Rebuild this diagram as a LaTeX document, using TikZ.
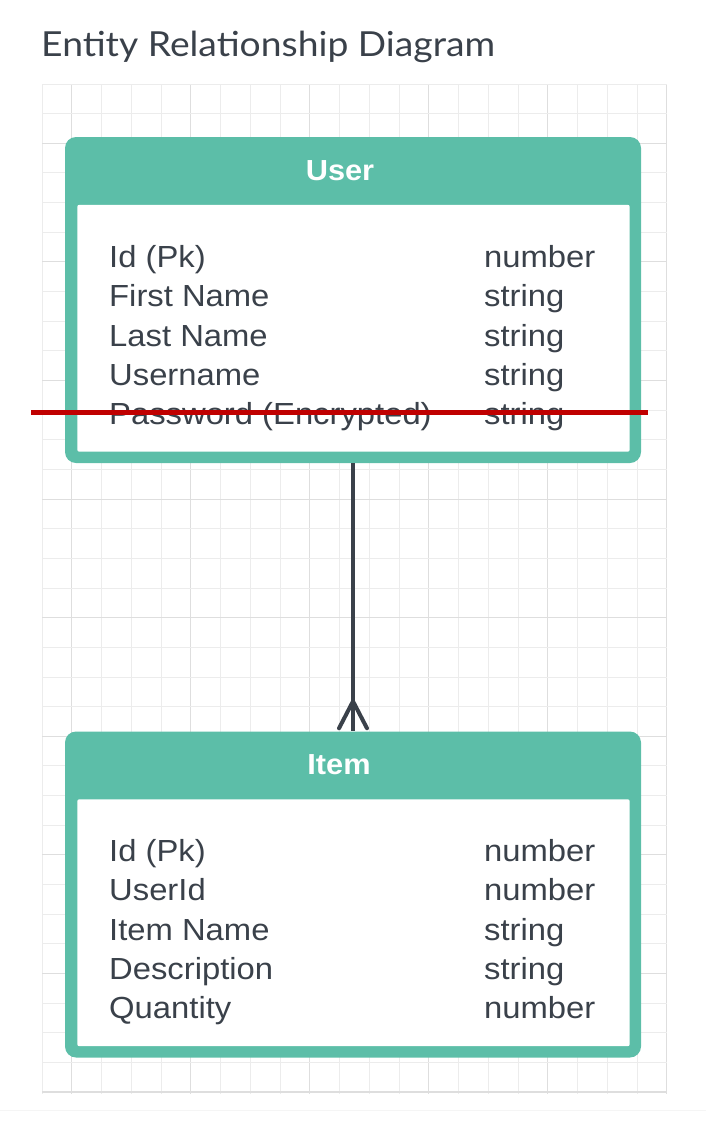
\documentclass[tikz,border=0pt]{standalone}
\usepackage{fontspec}
\setmainfont{Liberation Sans}
\newfontfamily\titlefont{Lato}
\usetikzlibrary{calc}
\definecolor{teal1}{HTML}{5CBEA8}
\definecolor{ink}{HTML}{3A414A}
\definecolor{gridminor}{HTML}{ECECEC}
\definecolor{gridmajor}{HTML}{DEDEDE}
\definecolor{redline}{HTML}{C00000}
\newcommand{\rowtxt}[1]{\scalebox{1.075}[1]{\fontsize{30.5}{31}\selectfont #1}}
\newcommand{\headtxt}[1]{\scalebox{1.06}[1]{\fontsize{29}{30}\selectfont\bfseries #1}}
\tikzset{
  entitybox/.style={fill=teal1, rounded corners=11pt, minimum width=576pt, minimum height=326pt, inner sep=0pt},
  bodyfill/.style={fill=white, rounded corners=2pt},
  field/.style={anchor=base west, inner sep=0pt, text=ink},
  header/.style={anchor=base, inner sep=0pt, text=white},
  conn/.style={draw=ink, line width=4.5pt},
  crow/.style={draw=ink, line width=4pt, line cap=round, line join=round},
}
\begin{document}
\begin{tikzpicture}[x=1pt,y=-1pt]
\useasboundingbox (0,0) rectangle (706,1125);
% grid
\foreach \k in {0,...,21}{
  \pgfmathtruncatemacro{\m}{mod(\k,4)}
  \ifnum\m=1 \def\gc{gridmajor}\else\def\gc{gridminor}\fi
  \draw[\gc, line width=1pt] ({42+29.76*\k},84) -- ({42+29.76*\k},1094);
}
\foreach \k in {0,...,34}{
  \pgfmathtruncatemacro{\m}{mod(\k,4)}
  \ifnum\m=2 \def\gc{gridmajor}\else\def\gc{gridminor}\fi
  \draw[\gc, line width=1pt] (42,{84+29.65*\k}) -- (667,{84+29.65*\k});
}
\draw[gridmajor, line width=1.3pt] (42,1092) -- (667,1092);
\draw[black!4, line width=1pt] (0,1110) -- (706,1110);
% title
\node[anchor=base west, inner sep=0pt, text=ink] (title) at (41,56)
  {\scalebox{1.08}[1]{\titlefont\fontsize{34.5}{35}\selectfont Entity Relationship Diagram}};
% entities
\node[entitybox] (user) at (353,300) {};
\fill[bodyfill] ($(user.north west)+(12.5,68)$) rectangle ($(user.south east)+(-11.5,-11.5)$);
\node[entitybox] (item) at (353,894.5) {};
\fill[bodyfill] ($(item.north west)+(12.5,68)$) rectangle ($(item.south east)+(-11.5,-11.5)$);
\node[header] (userhead) at (340,180) {\headtxt{User}};
\node[header] (itemhead) at (339,774) {\headtxt{Item}};
% user fields
\node[field] (u1) at (109,267) {\rowtxt{Id (Pk)}};
\node[field] (u2) at (109,306.5) {\rowtxt{First Name}};
\node[field] (u3) at (109,346) {\rowtxt{Last Name}};
\node[field] (u4) at (109,385.3) {\rowtxt{Username}};
\node[field] (u5) at (109,424.7) {\rowtxt{Password (Encrypted)}};
\node[field] (ut1) at (484,267) {\rowtxt{number}};
\node[field] (ut2) at (484,306.5) {\rowtxt{string}};
\node[field] (ut3) at (484,346) {\rowtxt{string}};
\node[field] (ut4) at (484,385.3) {\rowtxt{string}};
\node[field] (ut5) at (484,424.7) {\rowtxt{string}};
% item fields
\node[field] (i1) at (109,861) {\rowtxt{Id (Pk)}};
\node[field] (i2) at (109,900.5) {\rowtxt{UserId}};
\node[field] (i3) at (109,940) {\rowtxt{Item Name}};
\node[field] (i4) at (109,979.3) {\rowtxt{Description}};
\node[field] (i5) at (109,1018.7) {\rowtxt{Quantity}};
\node[field] (it1) at (484,861) {\rowtxt{number}};
\node[field] (it2) at (484,900.5) {\rowtxt{number}};
\node[field] (it3) at (484,940) {\rowtxt{string}};
\node[field] (it4) at (484,979.3) {\rowtxt{string}};
\node[field] (it5) at (484,1018.7) {\rowtxt{number}};
% connector with crow's foot
\draw[conn] (user.south) -- (item.north);
\draw[crow] ($(item.north)+(-14,-3)$) -- ($(item.north)+(0,-30)$) -- ($(item.north)+(14,-3)$);
% red strike line
\coordinate (rl) at (31,412.5);
\coordinate (rr) at (648,412.5);
\draw[redline, line width=5pt] (rl) -- (rr);
\end{tikzpicture}
\end{document}
